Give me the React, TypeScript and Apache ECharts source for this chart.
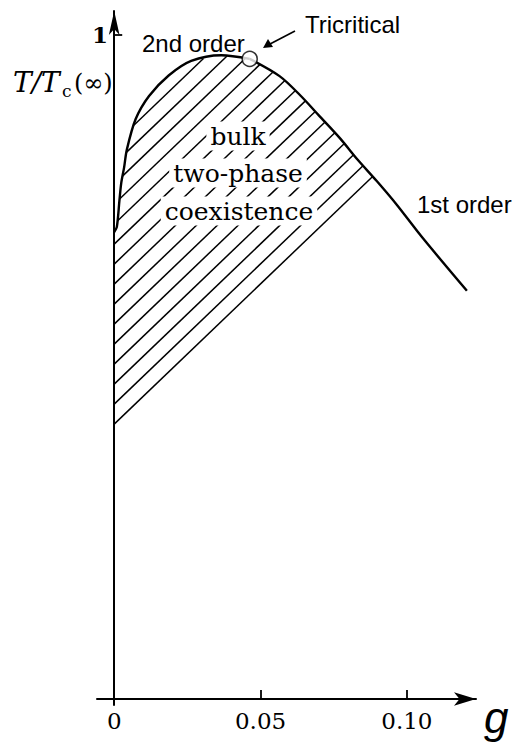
import { useEffect, useRef } from 'react';
import * as echarts from 'echarts';

// Phase boundary T/Tc(∞) against g: second-order branch, up to the tricritical point
const secondOrderG = [0, 0.0009, 0.0018, 0.0024, 0.0034, 0.0043, 0.0073, 0.0119, 0.0186, 0.0263, 0.0366, 0.0463];
const secondOrderT = [0.703, 0.711, 0.7515, 0.777, 0.801, 0.827, 0.873, 0.908, 0.939, 0.961, 0.9695, 0.964];

// First-order branch, from the tricritical point
const firstOrderG = [0.0463, 0.0565, 0.0637, 0.0699, 0.0771, 0.0832, 0.0897, 0.0966, 0.105, 0.1205];
const firstOrderT = [0.964, 0.938, 0.9085, 0.879, 0.8447, 0.812, 0.78, 0.744, 0.6964, 0.6147];

// Tricritical point [g, T/Tc]
const tricriticalPoint = [0.0463, 0.964];

// Bulk two-phase coexistence region: lower edge runs from the T axis to the boundary
const coexistStartT = 0.414;
const coexistEndG = 0.0883;

// Axis ticks
const gTicks = [0, 0.05, 0.1];
const gTickLabels = ['0', '0.05', '0.10'];
const gTickMarks = [0.05, 0.1];
const tTicks = [1];
const tTickLabels = ['1'];

// Axis extents (the axes carry arrows beyond the data range)
const gRange = [-0.00588, 0.12361];
const tRange = [-0.00904, 1.0361];

const HATCH_GAP = 20; // vertical spacing of the hatching along the T axis, px
const INK = '#000';
const SERIF = 'DejaVu Serif';
const SANS = 'Liberation Sans';

const pickLabel = (values: number[], labels: string[]) => (v: number) => {
  const i = values.findIndex((t) => Math.abs(t - v) < 1e-9);
  return i < 0 ? '' : '{v|' + labels[i] + '}';
};

export default function App() {
  const ref = useRef<HTMLDivElement>(null);

  useEffect(() => {
    if (!ref.current) return;
    const chart = echarts.init(ref.current, undefined, { renderer: 'svg' });

    const secondOrder = secondOrderG.map((g, i) => [g, secondOrderT[i]]);
    const firstOrder = firstOrderG.map((g, i) => [g, firstOrderT[i]]);
    const boundary = [...secondOrder, ...firstOrder.slice(1)];

    // T on the boundary at a given g (linear between read points)
    const boundaryT = (g: number) => {
      for (let i = 1; i < boundary.length; i++) {
        const [g0, t0] = boundary[i - 1];
        const [g1, t1] = boundary[i];
        if (g >= g0 && g <= g1) return t0 + ((g - g0) / (g1 - g0)) * (t1 - t0);
      }
      return boundary[boundary.length - 1][1];
    };

    const region: number[][] = [
      [0, coexistStartT],
      ...boundary.filter((p) => p[0] < coexistEndG),
      [coexistEndG, boundaryT(coexistEndG)],
    ];

    // Hatching of the coexistence region: lines parallel to its lower edge,
    // clipped to the region outline in pixel space.
    const renderHatch = (_params: any, api: any) => {
      const pts = region.map((p) => api.coord(p));
      const A = pts[0];
      const B = pts[pts.length - 1];
      const dx = B[0] - A[0];
      const dy = B[1] - A[1];
      const len = Math.hypot(dx, dy);
      const ux = dx / len;
      const uy = dy / len;
      const style = { stroke: INK, lineWidth: 1.5 };
      const children: any[] = [
        { type: 'line', shape: { x1: A[0], y1: A[1], x2: B[0], y2: B[1] }, style },
      ];
      let seen = false;
      for (let k = 1; k < 120; k++) {
        const ox = A[0];
        const oy = A[1] - k * HATCH_GAP;
        const ts: number[] = [];
        for (let i = 0; i < pts.length; i++) {
          const P = pts[i];
          const Q = pts[(i + 1) % pts.length];
          const ex = Q[0] - P[0];
          const ey = Q[1] - P[1];
          const den = ux * ey - uy * ex;
          if (Math.abs(den) < 1e-9) continue;
          const wx = P[0] - ox;
          const wy = P[1] - oy;
          const t = (wx * ey - wy * ex) / den;
          const s = (wx * uy - wy * ux) / den;
          if (s >= 0 && s < 1) ts.push(t);
        }
        if (ts.length < 2) {
          if (seen) break;
          continue;
        }
        seen = true;
        ts.sort((a, b) => a - b);
        for (let j = 0; j + 1 < ts.length; j += 2) {
          children.push({
            type: 'line',
            shape: {
              x1: ox + ts[j] * ux,
              y1: oy + ts[j] * uy,
              x2: ox + ts[j + 1] * ux,
              y2: oy + ts[j + 1] * uy,
            },
            style,
          });
        }
      }
      return { type: 'group', children };
    };

    const regionLabel = (text: string, x: number, y: number) => ({
      type: 'text',
      z: 20,
      style: {
        x,
        y,
        text,
        fontFamily: SERIF,
        fontSize: 25,
        fill: INK,
        align: 'center',
        verticalAlign: 'middle',
        backgroundColor: '#fff',
        padding: [2, 4],
      },
    });

    const option: any = {
      animation: false,
      backgroundColor: '#fff',
      grid: { left: 97, right: 36, top: 11, bottom: 43, containLabel: false, outerBoundsMode: 'none' },
      xAxis: {
        type: 'value',
        min: gRange[0],
        max: gRange[1],
        splitLine: { show: false },
        axisLine: {
          onZero: true,
          symbol: ['none', 'arrow'],
          symbolSize: [10, 22],
          lineStyle: { color: INK, width: 2 },
        },
        axisTick: {
          show: true,
          inside: true,
          length: 9,
          customValues: gTickMarks,
          lineStyle: { color: INK, width: 1.8 },
        },
        axisLabel: {
          customValues: gTicks,
          formatter: pickLabel(gTicks, gTickLabels),
          margin: 4,
          rich: { v: { fontFamily: SERIF, fontSize: 23, color: INK } },
        },
      },
      yAxis: {
        type: 'value',
        min: tRange[0],
        max: tRange[1],
        splitLine: { show: false },
        axisLine: {
          onZero: true,
          symbol: ['none', 'arrow'],
          symbolSize: [8, 24],
          lineStyle: { color: INK, width: 2 },
        },
        axisTick: {
          show: true,
          inside: true,
          length: 8,
          customValues: tTicks,
          lineStyle: { color: INK, width: 1.8 },
        },
        axisLabel: {
          customValues: tTicks,
          formatter: pickLabel(tTicks, tTickLabels),
          margin: -11,
          rich: { v: { fontFamily: SERIF, fontSize: 23, fontWeight: 'bold', color: INK } },
        },
      },
      series: [
        {
          type: 'custom',
          name: 'coexistence',
          coordinateSystem: 'cartesian2d',
          data: [[0, 0]],
          renderItem: renderHatch,
          silent: true,
          z: 1,
        },
        {
          type: 'line',
          name: '2nd order',
          data: secondOrder,
          smooth: 0.3,
          symbol: 'none',
          lineStyle: { color: INK, width: 2.4 },
          z: 3,
        },
        {
          type: 'line',
          name: '1st order',
          data: firstOrder,
          smooth: 0.3,
          symbol: 'none',
          lineStyle: { color: INK, width: 2.4 },
          z: 3,
        },
        {
          type: 'scatter',
          name: 'Tricritical',
          data: [tricriticalPoint],
          symbol: 'circle',
          symbolSize: 15,
          itemStyle: { color: '#fff', borderColor: INK, borderWidth: 1.5 },
          z: 5,
        },
      ],
      graphic: [
        // axis title T/Tc(∞)
        { type: 'text', z: 20, style: { x: 13, y: 82, text: 'T/T', fontFamily: SERIF, fontStyle: 'italic', fontSize: 28, fill: INK, verticalAlign: 'middle' } },
        { type: 'text', z: 20, style: { x: 62, y: 91, text: 'c', fontFamily: SERIF, fontSize: 17, fill: INK, verticalAlign: 'middle' } },
        { type: 'text', z: 20, style: { x: 74, y: 83, text: '(∞)', fontFamily: SERIF, fontSize: 24, fill: INK, verticalAlign: 'middle' } },
        // g axis title
        { type: 'text', z: 20, style: { x: 484, y: 717, text: 'g', fontFamily: SANS, fontStyle: 'italic', fontSize: 44, fill: INK, verticalAlign: 'middle' } },
        // branch annotations
        { type: 'text', z: 20, style: { x: 142, y: 43, text: '2nd order', fontFamily: SANS, fontSize: 24, fill: INK, verticalAlign: 'middle' } },
        { type: 'text', z: 20, style: { x: 417, y: 204, text: '1st order', fontFamily: SANS, fontSize: 24, fill: INK, verticalAlign: 'middle' } },
        { type: 'text', z: 20, style: { x: 305, y: 24, text: 'Tricritical', fontFamily: SANS, fontSize: 24, fill: INK, verticalAlign: 'middle' } },
        { type: 'line', z: 20, shape: { x1: 295, y1: 31, x2: 270, y2: 44 }, style: { stroke: INK, lineWidth: 1.6 } },
        { type: 'polygon', z: 20, shape: { points: [[263, 48], [268, 39], [273, 47]] }, style: { fill: INK } },
        // region label
        regionLabel('bulk', 238, 136),
        regionLabel('two-phase', 238, 173),
        regionLabel('coexistence', 239, 211),
      ],
    };

    chart.setOption(option);
    return () => chart.dispose();
  }, []);

  return (
    <div
      ref={ref}
      style={{ position: 'fixed', left: 0, top: 0, width: 512, height: 748, background: '#fff' }}
    />
  );
}
